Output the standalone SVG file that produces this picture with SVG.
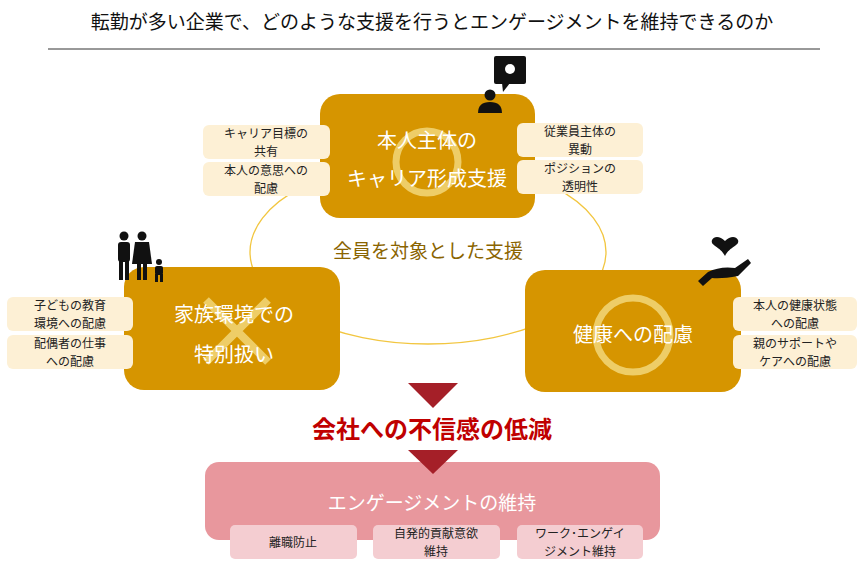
<svg xmlns="http://www.w3.org/2000/svg" width="865" height="570" viewBox="0 0 865 570">
<style>
text{font-family:"Noto Sans CJK JP","Noto Sans",sans-serif;text-anchor:middle}
.box{fill:#d69500}
.wt{fill:#fff;font-size:20px}
.side{fill:#fdf0d5}
.st{font-size:12px;fill:#222}
.pk{fill:#f4cdd1}
.sym{fill:none;stroke:#f5e08a;stroke-width:7;opacity:.75}
</style>
<rect width="865" height="570" fill="#fff"/>
<text x="432" y="29" style="font-size:19px" fill="#111">転勤が多い企業で、どのような支援を行うとエンゲージメントを維持できるのか</text>
<line x1="48" y1="49" x2="820" y2="49" stroke="#333" stroke-width="1"/>
<g id="connectors">
<ellipse cx="428" cy="252" rx="178" ry="92" fill="none" stroke="#f2c640" stroke-width="1.3"/>
<polygon points="408,383 458,383 433,408" fill="#a51f28"/>
</g>
<text x="428" y="258" style="font-size:19px" fill="#8a6400">全員を対象とした支援</text>
<g id="top">
<rect class="box" x="320" y="94" width="215" height="124" rx="20"/>
<circle class="sym" cx="427" cy="162" r="31"/>
<text class="wt" x="427" y="148">本人主体の</text>
<text class="wt" x="427" y="186">キャリア形成支援</text>
<rect class="side" x="203" y="125" width="127" height="34" rx="6"/>
<text class="st" x="266" y="138">キャリア目標の</text><text class="st" x="266" y="156">共有</text>
<rect class="side" x="203" y="162" width="127" height="34" rx="6"/>
<text class="st" x="266" y="175">本人の意思への</text><text class="st" x="266" y="193">配慮</text>
<rect class="side" x="517" y="123" width="126" height="34" rx="6"/>
<text class="st" x="580" y="136">従業員主体の</text><text class="st" x="580" y="154">異動</text>
<rect class="side" x="517" y="160" width="126" height="34" rx="6"/>
<text class="st" x="580" y="173">ポジションの</text><text class="st" x="580" y="191">透明性</text>
<rect x="494" y="56" width="32" height="28" rx="2" fill="#111"/>
<polygon points="502,83 510,83 503,92" fill="#111"/>
<circle cx="510" cy="69" r="5" fill="#fff"/>
<circle cx="490" cy="95" r="5.5" fill="#111"/>
<path d="M478,113 Q478,102 490,102 Q502,102 502,113 Z" fill="#111"/>
</g>
<g id="left">
<rect class="box" x="124" y="267" width="216" height="123" rx="20"/>
<path class="sym" d="M206,300 L268,362 M268,300 L206,362" style="stroke-width:8"/>
<text class="wt" x="234" y="322">家族環境での</text>
<text class="wt" x="234" y="362">特別扱い</text>
<rect class="side" x="7" y="297" width="126" height="34" rx="6"/>
<text class="st" x="70" y="310">子どもの教育</text><text class="st" x="70" y="328">環境への配慮</text>
<rect class="side" x="7" y="335" width="126" height="34" rx="6"/>
<text class="st" x="70" y="348">配偶者の仕事</text><text class="st" x="70" y="366">への配慮</text>
<g fill="#111">
<circle cx="124" cy="236" r="4.5"/><rect x="118" y="242" width="12" height="20" rx="3"/><rect x="119" y="258" width="4" height="22"/><rect x="125" y="258" width="4" height="22"/>
<circle cx="142" cy="236" r="4.5"/><path d="M135,242 h14 l3,22 h-20 z"/><rect x="137" y="262" width="4" height="18"/><rect x="143" y="262" width="4" height="18"/>
<circle cx="159" cy="262" r="3"/><rect x="155" y="266" width="8" height="9" rx="2"/><rect x="155" y="274" width="3" height="8"/><rect x="160" y="274" width="3" height="8"/>
</g>
</g>
<g id="right">
<rect class="box" x="525" y="270" width="216" height="122" rx="20"/>
<circle class="sym" cx="633" cy="335" r="37"/>
<text class="wt" x="633" y="342">健康への配慮</text>
<rect class="side" x="733" y="297" width="124" height="34" rx="6"/>
<text class="st" x="795" y="310">本人の健康状態</text><text class="st" x="795" y="328">への配慮</text>
<rect class="side" x="733" y="335" width="124" height="34" rx="6"/>
<text class="st" x="795" y="348">親のサポートや</text><text class="st" x="795" y="366">ケアへの配慮</text>
<path d="M725,256 C720,246 710,246 712,240 C714,236 720,236 725,241 C730,236 736,236 738,240 C740,246 730,246 725,256 Z" fill="#111"/>
<path d="M698,281 L708,272 Q720,266 735,268 L748,259 L751,263 L738,276 Q722,279 712,278 L703,286 Z" fill="#111"/>
</g>
<text x="432" y="438" style="font-size:24px;font-weight:bold" fill="#c00000">会社への不信感の低減</text>
<g id="bottom">
<rect x="205" y="462" width="455" height="78" rx="14" fill="#e8979d"/>
<polygon points="408,450 458,450 433,474" fill="#a51f28"/>
<text x="432" y="510" style="font-size:19px" fill="#fff">エンゲージメントの維持</text>
<rect class="pk" x="230" y="525" width="127" height="34" rx="5"/>
<text class="st" x="293" y="547">離職防止</text>
<rect class="pk" x="373" y="525" width="127" height="34" rx="5"/>
<text class="st" x="436" y="538">自発的貢献意欲</text><text class="st" x="436" y="556">維持</text>
<rect class="pk" x="517" y="525" width="126" height="34" rx="5"/>
<text class="st" x="580" y="538">ワーク･エンゲイ</text><text class="st" x="580" y="556">ジメント維持</text>
</g>
</svg>
